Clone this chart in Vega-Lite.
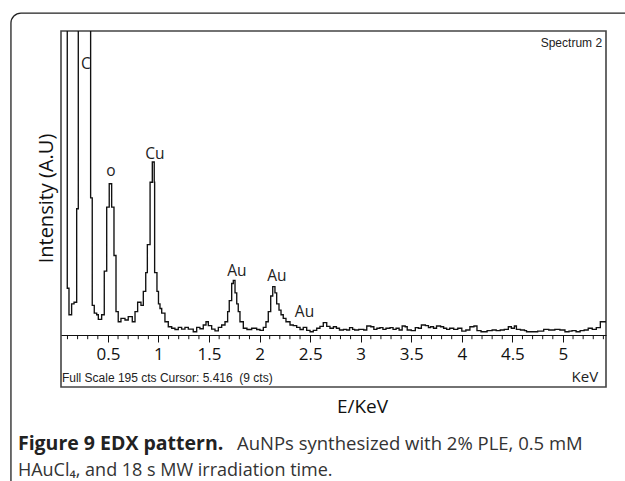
{
  "$schema": "https://vega.github.io/schema/vega-lite/v6.json",
  "width": 545,
  "height": 356,
  "autosize": {"type": "none"},
  "padding": {"left": 61, "top": 31, "right": 19, "bottom": 94},
  "background": "white",
  "config": {"view": {"stroke": "#444", "strokeWidth": 1.6}, "font": "Open Sans"},
  "datasets": {
    "spectrum": [
      {"e":0.036,"c":260},{"e":0.098,"c":30},{"e":0.115,"c":13},{"e":0.141,"c":20},{"e":0.165,"c":21},{"e":0.191,"c":81},{"e":0.207,"c":260},{"e":0.329,"c":88},{"e":0.345,"c":19},{"e":0.365,"c":14},{"e":0.389,"c":13},{"e":0.405,"c":10},{"e":0.438,"c":13},{"e":0.464,"c":41},{"e":0.488,"c":82},{"e":0.513,"c":97},{"e":0.537,"c":82},{"e":0.560,"c":51},{"e":0.580,"c":15},{"e":0.602,"c":8.5},{"e":0.629,"c":10.7},{"e":0.669,"c":9.6},{"e":0.701,"c":11.8},{"e":0.741,"c":8.5},{"e":0.768,"c":15},{"e":0.794,"c":21},{"e":0.827,"c":19},{"e":0.850,"c":28},{"e":0.874,"c":40},{"e":0.890,"c":58},{"e":0.917,"c":98},{"e":0.939,"c":111},{"e":0.958,"c":98},{"e":0.962,"c":40},{"e":0.985,"c":28},{"e":1.0,"c":20},{"e":1.015,"c":17},{"e":1.032,"c":14},{"e":1.064,"c":8.5},{"e":1.097,"c":5.3},{"e":1.131,"c":4.3},{"e":1.163,"c":3.5},{"e":1.196,"c":4.9},{"e":1.229,"c":3.8},{"e":1.262,"c":4.9},{"e":1.295,"c":3.8},{"e":1.344,"c":2.1},{"e":1.378,"c":4.9},{"e":1.410,"c":4},{"e":1.443,"c":6.4},{"e":1.470,"c":8.5},{"e":1.493,"c":6},{"e":1.526,"c":3.8},{"e":1.559,"c":2.6},{"e":1.592,"c":4.9},{"e":1.625,"c":6.4},{"e":1.658,"c":8.5},{"e":1.684,"c":15},{"e":1.700,"c":22},{"e":1.724,"c":33},{"e":1.740,"c":35},{"e":1.757,"c":27},{"e":1.774,"c":20},{"e":1.789,"c":15},{"e":1.806,"c":8.5},{"e":1.839,"c":4.3},{"e":1.875,"c":3.5},{"e":1.922,"c":4.3},{"e":1.971,"c":3.5},{"e":2.004,"c":3},{"e":2.037,"c":4.9},{"e":2.063,"c":8.5},{"e":2.086,"c":15},{"e":2.110,"c":25},{"e":2.130,"c":31},{"e":2.152,"c":27},{"e":2.169,"c":20},{"e":2.192,"c":16},{"e":2.212,"c":13},{"e":2.234,"c":10.7},{"e":2.261,"c":8.5},{"e":2.301,"c":6.4},{"e":2.333,"c":6},{"e":2.367,"c":4.9},{"e":2.400,"c":3.5},{"e":2.432,"c":4.9},{"e":2.466,"c":3},{"e":2.499,"c":2.1},{"e":2.531,"c":3},{"e":2.565,"c":4.3},{"e":2.597,"c":5.5},{"e":2.630,"c":7.9},{"e":2.664,"c":5.5},{"e":2.696,"c":4.3},
      {"e":2.73,"c":5.3},{"e":2.76,"c":4.3},{"e":2.79,"c":3.2},{"e":2.83,"c":3.6},{"e":2.86,"c":3.2},{"e":2.89,"c":4.7},{"e":2.92,"c":3.6},{"e":2.94,"c":3.2},{"e":2.98,"c":3.6},{"e":3.03,"c":3.2},{"e":3.06,"c":5.8},{"e":3.10,"c":5.3},{"e":3.13,"c":3.6},{"e":3.16,"c":4.3},{"e":3.19,"c":4.7},{"e":3.22,"c":3.6},{"e":3.25,"c":4.3},{"e":3.29,"c":4.7},{"e":3.32,"c":3.6},{"e":3.35,"c":4.3},{"e":3.38,"c":3.2},{"e":3.41,"c":5.8},{"e":3.44,"c":5.3},{"e":3.46,"c":3.2},{"e":3.50,"c":2.8},{"e":3.54,"c":4.7},{"e":3.57,"c":4.3},{"e":3.60,"c":6.4},{"e":3.64,"c":6.0},{"e":3.67,"c":4.7},{"e":3.69,"c":5.3},{"e":3.72,"c":4.3},{"e":3.75,"c":5.8},{"e":3.79,"c":5.3},{"e":3.82,"c":4.3},{"e":3.85,"c":3.6},{"e":3.88,"c":4.3},{"e":3.92,"c":3.6},{"e":3.96,"c":4.3},{"e":4.00,"c":2.5},{"e":4.04,"c":3.2},{"e":4.08,"c":5.3},{"e":4.12,"c":5.8},{"e":4.15,"c":2.8},{"e":4.19,"c":2.1},{"e":4.25,"c":2.8},{"e":4.30,"c":3.2},{"e":4.34,"c":2.8},{"e":4.38,"c":3.2},{"e":4.42,"c":3.6},{"e":4.46,"c":5.3},{"e":4.49,"c":4.3},{"e":4.52,"c":5.8},{"e":4.54,"c":3.6},{"e":4.58,"c":3.2},{"e":4.62,"c":2.8},{"e":4.64,"c":2.1},{"e":4.70,"c":2.1},{"e":4.75,"c":2.5},{"e":4.81,"c":3.6},{"e":4.86,"c":3.2},{"e":4.92,"c":3.6},{"e":4.97,"c":3.2},{"e":5.02,"c":2.1},{"e":5.06,"c":2.5},{"e":5.09,"c":2.8},{"e":5.13,"c":2.1},{"e":5.17,"c":2.8},{"e":5.21,"c":3.2},{"e":5.25,"c":4.3},{"e":5.29,"c":3.6},{"e":5.33,"c":4.7},{"e":5.37,"c":8.5},{"e":5.40,"c":8.5},{"e":5.426,"c":9}
    ],
    "peaks": [
      {"label":"C","e":0.283,"c":174},
      {"label":"o","e":0.530,"c":105},
      {"label":"Cu","e":0.965,"c":116},
      {"label":"Au","e":1.776,"c":41},
      {"label":"Au","e":2.172,"c":38},
      {"label":"Au","e":2.444,"c":15}
    ],
    "minorTicks": [
      {"e":0.1},{"e":0.2},{"e":0.3},{"e":0.4},{"e":0.6},{"e":0.7},{"e":0.8},{"e":0.9},{"e":1.1},{"e":1.2},{"e":1.3},{"e":1.4},{"e":1.6},{"e":1.7},{"e":1.8},{"e":1.9},{"e":2.1},{"e":2.2},{"e":2.3},{"e":2.4},{"e":2.6},{"e":2.7},{"e":2.8},{"e":2.9},{"e":3.1},{"e":3.2},{"e":3.3},{"e":3.4},{"e":3.6},{"e":3.7},{"e":3.8},{"e":3.9},{"e":4.1},{"e":4.2},{"e":4.3},{"e":4.4},{"e":4.6},{"e":4.7},{"e":4.8},{"e":4.9},{"e":5.1},{"e":5.2},{"e":5.3},{"e":5.4}
    ]
  },
  "layer": [
    {
      "data": {"values": [{}]},
      "mark": {"type": "rect", "fillOpacity": 0, "stroke": "#222", "strokeWidth": 1.3, "cornerRadius": 10, "clip": false},
      "encoding": {
        "x": {"datum": -0.459, "scale": {"domain": [0.036, 5.426], "nice": false, "zero": false}},
        "x2": {"datum": 5.9},
        "y": {"datum": 206.5, "scale": {"domain": [-33.36, 195], "nice": false, "zero": false}},
        "y2": {"datum": -110}
      }
    },
    {
      "data": {"name": "minorTicks"},
      "mark": {"type": "rule", "color": "#111", "strokeWidth": 1},
      "encoding": {
        "x": {"field": "e", "type": "quantitative"},
        "y": {"datum": 0},
        "y2": {"datum": -2.7}
      }
    },
    {
      "data": {"name": "spectrum"},
      "mark": {"type": "line", "interpolate": "step-after", "color": "#111", "strokeWidth": 1.35, "clip": true},
      "encoding": {
        "x": {
          "field": "e", "type": "quantitative",
          "scale": {"domain": [0.036, 5.426], "nice": false, "zero": false},
          "axis": {
            "orient": "bottom", "offset": -52, "grid": false,
            "values": [0.5,1,1.5,2,2.5,3,3.5,4,4.5,5],
            "format": "~g",
            "tickSize": 7,
            "tickColor": "#111", "tickWidth": 1, "domainColor": "#111", "domainWidth": 1.2,
            "labelFont": "Open Sans", "labelFontSize": 17, "labelColor": "#111", "labelPadding": 4,
            "labelFlush": false, "labelOverlap": false,
            "title": "E/KeV", "titleFont": "Open Sans", "titleFontSize": 19, "titleFontWeight": "normal", "titleColor": "#111",
            "titleX": 301, "titleY": 77, "titleBaseline": "alphabetic", "titleAlign": "center"
          }
        },
        "y": {
          "field": "c", "type": "quantitative",
          "scale": {"domain": [-33.36, 195], "nice": false, "zero": false},
          "axis": {
            "orient": "left", "domain": false, "ticks": false, "labels": false, "grid": false,
            "title": "Intensity (A.U)", "titleFont": "Open Sans", "titleFontSize": 20, "titleFontWeight": "normal", "titleColor": "#111",
            "titleX": -9, "titleY": 167, "titleBaseline": "alphabetic", "titleAlign": "center", "titleAngle": -90
          }
        }
      }
    },
    {
      "data": {"name": "peaks"},
      "mark": {"type": "text", "font": "Open Sans", "fontSize": 15.5, "color": "#222", "align": "center", "baseline": "middle"},
      "encoding": {
        "x": {"field": "e", "type": "quantitative"},
        "y": {"field": "c", "type": "quantitative"},
        "text": {"field": "label"}
      }
    },
    {
      "data": {"values": [{}]},
      "mark": {"type": "text", "text": "Spectrum 2", "font": "Liberation Sans", "fontSize": 12, "color": "#222", "align": "right", "baseline": "alphabetic"},
      "encoding": {"x": {"datum": 5.387}, "y": {"datum": 184.7}}
    },
    {
      "data": {"values": [{}]},
      "mark": {"type": "text", "text": "Full Scale 195 cts Cursor: 5.416 \u00a0(9 cts)", "font": "Liberation Sans", "fontSize": 12, "color": "#222", "align": "left", "baseline": "alphabetic"},
      "encoding": {"x": {"datum": 0.045}, "y": {"datum": -30.1}}
    },
    {
      "data": {"values": [{}]},
      "mark": {"type": "text", "text": "KeV", "font": "Open Sans", "fontSize": 15, "color": "#222", "align": "right", "baseline": "alphabetic"},
      "encoding": {"x": {"datum": 5.348}, "y": {"datum": -30.1}}
    },
    {
      "data": {"values": [{}]},
      "mark": {"type": "text", "text": "Figure 9 EDX pattern.", "font": "Open Sans", "fontSize": 19.5, "fontWeight": "bold", "color": "#222", "align": "left", "baseline": "alphabetic"},
      "encoding": {"x": {"datum": -0.39}, "y": {"datum": -73.8}}
    },
    {
      "data": {"values": [{}]},
      "mark": {"type": "text", "text": "AuNPs synthesized with 2% PLE, 0.5 mM", "font": "Open Sans", "fontSize": 18.5, "color": "#333", "align": "left", "baseline": "alphabetic"},
      "encoding": {"x": {"datum": 1.776}, "y": {"datum": -73.8}}
    },
    {
      "data": {"values": [{}]},
      "mark": {"type": "text", "text": "HAuCl\u2084, and 18 s MW irradiation time.", "font": "Open Sans", "fontSize": 18, "color": "#333", "align": "left", "baseline": "alphabetic"},
      "encoding": {"x": {"datum": -0.39}, "y": {"datum": -90.4}}
    }
  ]
}
